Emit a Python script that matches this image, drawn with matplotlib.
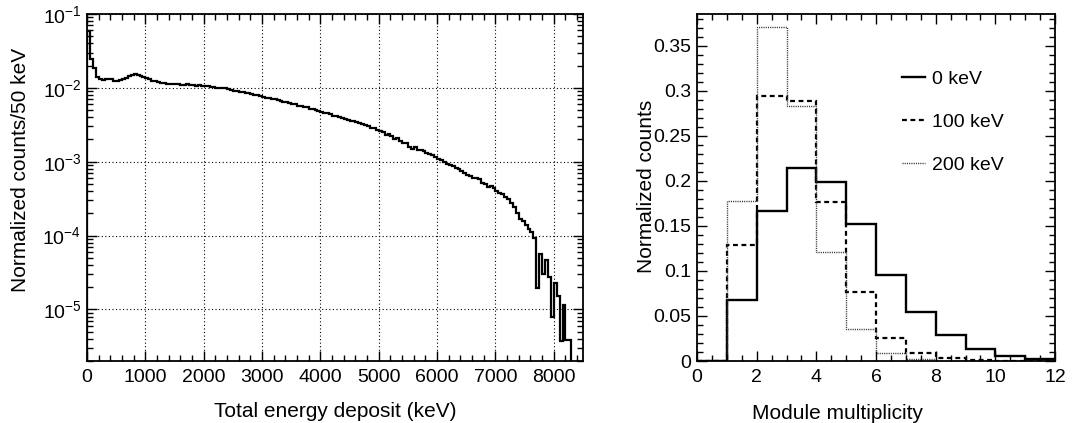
import numpy as np
import matplotlib
matplotlib.use("Agg")
import matplotlib.pyplot as plt
from matplotlib.ticker import MultipleLocator, LogLocator, NullFormatter, FuncFormatter, FixedLocator

plt.rcParams['font.family'] = ['Liberation Sans', 'DejaVu Sans']
plt.rcParams['mathtext.fontset'] = 'custom'
plt.rcParams['mathtext.rm'] = 'Liberation Sans'
plt.rcParams['mathtext.it'] = 'Liberation Sans:italic'
plt.rcParams['mathtext.bf'] = 'Liberation Sans:bold'

# ---------------- data ----------------
energy_bin_width = 50  # keV
energy_max = 8500
# normalized counts per 50 keV bin, starting at 0 keV
energy_counts = [
    0.058, 0.0243, 0.0184, 0.0141, 0.0130, 0.0129, 0.0131, 0.0132, 0.0130, 0.0124,
    0.0122, 0.0126, 0.0131, 0.0138, 0.0145, 0.0150, 0.0153, 0.0149, 0.0143, 0.0140,
    0.0137, 0.0133, 0.0125, 0.0122, 0.0119, 0.0117, 0.0116, 0.0114, 0.0113, 0.0114,
    0.0112, 0.0111, 0.0110, 0.0109, 0.0111, 0.0108, 0.0109, 0.0107, 0.0108, 0.0106,
    0.0107, 0.0105, 0.0104, 0.0103, 0.0101, 0.0100, 0.0098, 0.0098, 0.0095, 0.0094,
    0.0092, 0.0090, 0.0089, 0.0087, 0.0086, 0.0084, 0.0083, 0.0081, 0.0079, 0.0078,
    0.0076, 0.0074, 0.0072, 0.0071, 0.0070, 0.0068, 0.0067, 0.0065, 0.0064, 0.0063,
    0.0061, 0.0060, 0.0057, 0.0056, 0.0055, 0.0055, 0.0052, 0.0051, 0.0050, 0.0049,
    0.0047, 0.0046, 0.0045, 0.0044, 0.0042, 0.0041, 0.0040, 0.0039, 0.0038, 0.0037,
    0.0036, 0.0036, 0.0034, 0.0033, 0.0032, 0.0031, 0.0030, 0.0029, 0.0029, 0.0027,
    0.0026, 0.0025, 0.0023, 0.0024, 0.0022, 0.0020, 0.0021, 0.0019, 0.0018, 0.0018,
    0.0016, 0.0015, 0.0016, 0.00145, 0.00142, 0.00138, 0.00132, 0.00128, 0.00122, 0.00117,
    0.00110, 0.00105, 0.00100, 0.00094, 0.00091, 0.00088, 0.00083, 0.00079, 0.00074, 0.00071,
    0.00067, 0.00064, 0.00061, 0.00060, 0.00058, 0.00052, 0.00050, 0.00045, 0.00047, 0.00044,
    0.00040, 0.00038, 0.00036, 0.00033, 0.00031, 0.00028, 0.00024, 0.00020, 0.00017, 0.000155,
    0.000138, 0.000122, 0.000112, 0.0000935, 0.0000193, 0.000056, 0.0000303, 0.000046, 0.0000274, 0.0000078,
    0.0000226, 0.0000154, 0.0000037, 0.0000115, 0.0000038, 0.0000038, 0.0, 0.0, 0.0, 0.0,
]

multiplicity_edges = list(range(13))
mult_0keV = [0.0, 0.0674, 0.1667, 0.2137, 0.1989, 0.1519, 0.0956, 0.0544, 0.0285, 0.0135, 0.0060, 0.0022]
mult_100keV = [0.0, 0.129, 0.294, 0.2885, 0.1767, 0.0767, 0.026, 0.009, 0.003, 0.001, 0.0, 0.0]
mult_200keV = [0.0, 0.178, 0.371, 0.283, 0.121, 0.036, 0.0085, 0.002, 0.0005, 0.0, 0.0, 0.0]
legend_labels = ["0 keV", "100 keV", "200 keV"]

# ---------------- figure ----------------
W, H = 1072, 423
fig = plt.figure(figsize=(W / 100, H / 100), dpi=100)

def axrect(x0, y0, x1, y1):
    return [x0 / W, 1 - y1 / H, (x1 - x0) / W, (y1 - y0) / H]

ax1 = fig.add_axes(axrect(87, 14, 583, 361))
ax2 = fig.add_axes(axrect(697, 14, 1055, 361))

TICK_FS = 14
LABEL_FS = 15

# ---- left panel ----
counts = np.array(energy_counts)
edges = np.arange(len(counts) + 1) * energy_bin_width
floor = 1e-12
ax1.stairs(np.where(counts > 0, counts, floor), edges, baseline=floor,
           color='black', lw=1.6)
ax1.set_yscale('log')
ax1.set_xlim(0, energy_max)
ax1.set_ylim(2e-6, 0.1)
ax1.xaxis.set_major_locator(MultipleLocator(1000))
ax1.xaxis.set_minor_locator(MultipleLocator(200))
ax1.yaxis.set_major_locator(FixedLocator([1e-5, 1e-4, 1e-3, 1e-2, 1e-1]))
ax1.yaxis.set_minor_locator(LogLocator(base=10, subs=np.arange(2, 10), numticks=20))
ax1.yaxis.set_minor_formatter(NullFormatter())
ax1.yaxis.set_major_formatter(FuncFormatter(
    lambda v, p: r'$\mathdefault{10^{%d}}$' % int(round(np.log10(v)))))
ax1.grid(True, which='major', color='black', lw=0.8, ls=(0, (1, 2.2)))

# ---- right panel ----
ax2.stairs(mult_0keV, multiplicity_edges, baseline=0, color='black', lw=1.7,
           label=legend_labels[0])
ax2.stairs(mult_100keV, multiplicity_edges, baseline=0, color='black', lw=1.6,
           ls=(0, (2.2, 1.6)), label=legend_labels[1])
ax2.stairs(mult_200keV, multiplicity_edges, baseline=0, color='#333333', lw=1.0,
           ls=(0, (0.8, 0.8)), label=legend_labels[2])
ax2.set_xlim(0, 12)
ax2.set_ylim(0, 0.385)
ax2.xaxis.set_major_locator(MultipleLocator(2))
ax2.xaxis.set_minor_locator(MultipleLocator(0.5))
ax2.yaxis.set_major_locator(MultipleLocator(0.05))
ax2.yaxis.set_minor_locator(MultipleLocator(0.01))
ax2.yaxis.set_major_formatter(FuncFormatter(lambda v, p: '%g' % round(v, 3)))

for ax in (ax1, ax2):
    ax.tick_params(which='both', direction='in', top=True, right=True,
                   labelsize=TICK_FS, width=1.0, colors='black')
    ax.tick_params(which='major', length=7)
    ax.tick_params(which='minor', length=4)
    ax.tick_params(axis='x', which='major', pad=6)
    ax.tick_params(axis='y', which='major', pad=4)
    for s in ax.spines.values():
        s.set_linewidth(1.3)

ax1.set_axisbelow(False)

# axis titles
fig.text(335 / W, 1 - 411 / H, 'Total energy deposit (keV)', ha='center', va='center',
         fontsize=LABEL_FS)
fig.text(21 / W, 1 - 170 / H, 'Normalized counts/50 keV', ha='center', va='center',
         rotation=90, fontsize=LABEL_FS)
fig.text(838 / W, 1 - 413 / H, 'Module multiplicity', ha='center', va='center',
         fontsize=LABEL_FS)
fig.text(647 / W, 1 - 186 / H, 'Normalized counts', ha='center', va='center',
         rotation=90, fontsize=LABEL_FS)

leg = ax2.legend(loc='upper left', bbox_to_anchor=((902 - 697) / 358, (361 - 70) / 347),
                 frameon=False, fontsize=TICK_FS, handlelength=1.2, handletextpad=0.35,
                 labelspacing=1.31, borderpad=0, borderaxespad=0)

fig.savefig('out.png', dpi=100)
